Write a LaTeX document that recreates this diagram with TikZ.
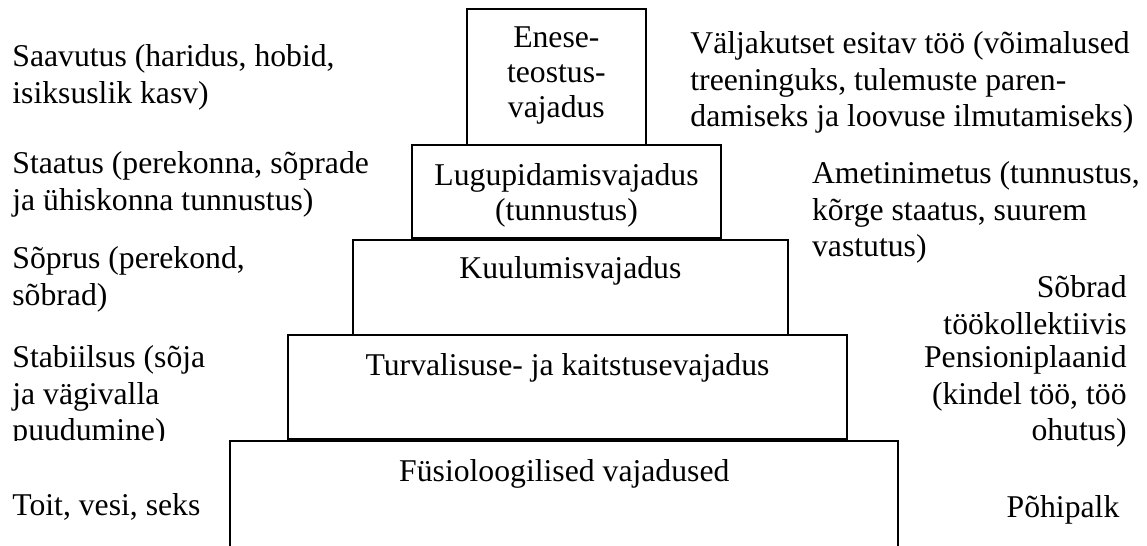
\documentclass[tikz,border=0pt]{standalone}
\usepackage{fontspec}
\setmainfont{Liberation Serif}
\tikzset{
  tier/.style={draw=black, line width=1pt},
  tierlbl/.style={align=center, inner sep=0pt, anchor=north,
                  font=\fontsize{15.85}{17.5}\selectfont},
  sidetxt/.style={inner sep=0pt, font=\fontsize{15.85}{18.3}\selectfont},
  sideL/.style={sidetxt, align=left, anchor=north west},
  sideR/.style={sidetxt, align=right, anchor=north east},
}

\begin{document}
\begin{tikzpicture}[x=0.5pt, y=-0.5pt]
\useasboundingbox (0,0) rectangle (1147,546);

% pyramid tiers
\draw[tier] (466.7,9) rectangle (646,144.5);
\draw[tier] (412.3,144.5) rectangle (720.7,237.5);
\draw[tier] (352.5,240) rectangle (788.3,335);
\draw[tier] (288.3,335) rectangle (846.7,438.5);
\draw[tier] (230.3,550) -- (230.3,441) -- (898.3,441) -- (898.3,550);

\node[tierlbl] (self) at (556.4,26) {Enese-\\teostus-\\vajadus};
\node[tierlbl] (esteem) at (566.5,163.3) {Lugupidamisvajadus\\(tunnustus)};
\node[tierlbl] (belong) at (570.4,256.3) {Kuulumisvajadus};
\node[tierlbl] (safety) at (567.5,353.3) {Turvalisuse- ja kaitstusevajadus};
\node[tierlbl] (physio) at (564.3,459.3) {Füsioloogilised vajadused};

% left column
\node[sideL] (achieve) at (12,44.3) {Saavutus (haridus, hobid,\\isiksuslik kasv)};
\node[sideL] (status) at (12,151.3) {Staatus (perekonna, sõprade\\ja ühiskonna tunnustus)};
\node[sideL] (friends) at (12,246.3) {Sõprus (perekond,\\sõbrad)};
\begin{scope}
  \clip (0,330) rectangle (229,440.5);
  \node[sideL] (stable) at (12,345.3) {Stabiilsus (sõja\\ja vägivalla\\puudumine)};
\end{scope}
\node[sideL] (food) at (12,493.3) {Toit, vesi, seks};

% right column
\node[sideL] (challenge) at (690,31.3) {Väljakutset esitav töö (võimalused\\treeninguks, tulemuste paren-\\damiseks ja loovuse ilmutamiseks)};
\node[sideL] (title) at (811.7,161.3) {Ametinimetus (tunnustus,\\kõrge staatus, suurem\\vastutus)};
\node[sideR] (coworkers) at (1127,275.3) {Sõbrad\\töökollektiivis};
\node[sideR] (pension) at (1127,345.3) {Pensioniplaanid\\(kindel töö, töö\\ohutus)};
\node[sidetxt, anchor=north] (salary) at (1063,495.3) {Põhipalk};
\end{tikzpicture}
\end{document}
